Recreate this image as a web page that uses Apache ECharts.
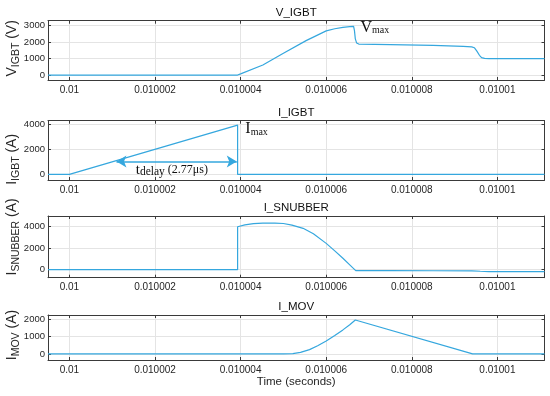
<!DOCTYPE html>
<html>
<head>
<meta charset="utf-8">
<script src="https://cdn.jsdelivr.net/npm/echarts@6/dist/echarts.min.js"></script>
<style>
html,body{margin:0;padding:0;background:#fff;}
#chart{width:550px;height:396px;}
</style>
</head>
<body>
<div id="chart"></div>
<script>
// time axis: microseconds after 0.01 s
const xTickValues = [0, 2, 4, 6, 8, 10];
const xTickLabels = ['0.01', '0.010002', '0.010004', '0.010006', '0.010008', '0.01001'];

const vIgbtT = [-0.5, 3.93, 4.0, 4.52, 5.0, 5.53, 6.0, 6.2, 6.39, 6.55, 6.64, 6.66, 6.68, 6.71, 6.76, 7.5, 8.5, 9.2, 9.4, 9.46, 9.52, 9.58, 9.63, 9.7, 9.8, 11.1];
const vIgbtV = [0, 0, 70, 610, 1320, 2090, 2680, 2810, 2900, 2940, 2950, 2700, 2200, 1950, 1880, 1850, 1800, 1740, 1710, 1660, 1450, 1200, 1060, 1010, 1000, 1000];

const iIgbtT = [-0.5, 0, 3.93, 3.93, 11.1];
const iIgbtV = [0, 0, 3950, 0, 0];

const iSnubT = [-0.5, 3.93, 3.93, 4.1, 4.3, 4.52, 4.8, 5.0, 5.2, 5.46, 5.7, 6.0, 6.2, 6.39, 6.55, 6.69, 7.5, 8.5, 9.4, 9.6, 9.8, 11.1];
const iSnubV = [0, 0, 4000, 4170, 4290, 4340, 4340, 4300, 4150, 3850, 3350, 2450, 1750, 1060, 450, -90, -90, -100, -110, -150, -180, -180];

const iMovT = [-0.5, 5.0, 5.22, 5.4, 5.61, 5.8, 6.0, 6.2, 6.39, 6.55, 6.68, 9.42, 11.1];
const iMovV = [0, 0, 15, 90, 250, 470, 750, 1060, 1390, 1690, 1960, 0, 0];

const panelTitles = ['V_IGBT', 'I_IGBT', 'I_SNUBBER', 'I_MOV'];
const yNameMain = ['V', 'I', 'I', 'I'];
const yNameSub = ['IGBT', 'IGBT', 'SNUBBER', 'MOV'];
const yNameUnit = [' (V)', ' (A)', ' (A)', ' (A)'];
const yTickValues = [[0, 1000, 2000, 3000], [0, 2000, 4000], [0, 2000, 4000], [0, 1000, 2000]];
const yRanges = [[-300, 3300], [-450, 4300], [-750, 5000], [-350, 2250]];

const delayArrow = [[1.1, 1040], [3.91, 1040]];
const vmaxPos = [6.8, 2870];
const imaxPos = [4.11, 3620];
const delayPos = [1.55, 330];

const xRange = [-0.5, 11.1];
const grids = [
  {top: 20.7, height: 59.3},
  {top: 120.7, height: 59.3},
  {top: 216, height: 61.7},
  {top: 315, height: 45}
];
const namePad = [[0,0,0,4],[0,18,0,0],[0,0,0,20],[0,0,0,5]];

const lineColor = '#35a7de';
const boxColor = '#3a3a3a';
const gridColor = '#e4e4e4';
const textColor = '#262626';
const FONT = 'Liberation Sans, Arial, sans-serif';
const SERIF = 'Liberation Serif, Times New Roman, serif';

const chart = echarts.init(document.getElementById('chart'), null, {renderer: 'canvas'});

const xAxes = [], yAxes = [], series = [];
const seriesData = [
  [vIgbtT, vIgbtV], [iIgbtT, iIgbtV], [iSnubT, iSnubV], [iMovT, iMovV]
];

grids.forEach((g, i) => {
  xAxes.push({
    type: 'value', gridIndex: i, position: 'bottom', min: xRange[0], max: xRange[1],
    axisLine: {show: true, onZero: false, lineStyle: {color: boxColor, width: 1}},
    axisTick: {show: true, inside: true, length: 3, customValues: xTickValues, lineStyle: {color: boxColor}},
    axisLabel: {show: true, customValues: xTickValues, margin: 5, fontSize: 10, fontFamily: FONT, color: textColor,
      formatter: v => xTickLabels[xTickValues.indexOf(v)]},
    splitLine: {show: true, lineStyle: {color: gridColor, width: 1}},
    name: i === 3 ? 'Time (seconds)' : '', nameLocation: 'middle', nameGap: 15,
    nameTextStyle: {fontSize: 11.5, fontFamily: FONT, color: textColor}
  });
  xAxes.push({
    type: 'value', gridIndex: i, position: 'top', min: xRange[0], max: xRange[1],
    axisLine: {show: true, onZero: false, lineStyle: {color: boxColor, width: 1}},
    axisTick: {show: true, inside: true, length: 3, customValues: xTickValues, lineStyle: {color: boxColor}},
    axisLabel: {show: false},
    splitLine: {show: false},
    name: panelTitles[i], nameLocation: 'middle', nameGap: 2,
    nameTextStyle: {fontSize: 11.5, fontFamily: FONT, color: '#111'}
  });
  yAxes.push({
    type: 'value', gridIndex: i, position: 'left', min: yRanges[i][0], max: yRanges[i][1],
    axisLine: {show: true, onZero: false, lineStyle: {color: boxColor, width: 1}},
    axisTick: {show: true, inside: true, length: 3, customValues: yTickValues[i], lineStyle: {color: boxColor}},
    axisLabel: {show: true, customValues: yTickValues[i], margin: 3, fontSize: 9.5, fontFamily: FONT, color: textColor,
      formatter: v => String(v)},
    splitLine: {show: true, lineStyle: {color: gridColor, width: 1}},
    name: '{m|' + yNameMain[i] + '}{s|' + yNameSub[i] + '}{m|' + yNameUnit[i] + '}',
    nameLocation: 'middle', nameRotate: 90, nameGap: 26, nameMoveOverlap: false,
    nameTextStyle: {
      color: textColor, fontFamily: FONT, padding: namePad[i],
      rich: {
        m: {fontSize: 14, lineHeight: 20, fontFamily: FONT, color: textColor},
        s: {fontSize: 10.5, lineHeight: 11, padding: [9, 0, 0, 0], verticalAlign: 'bottom', fontFamily: FONT, color: textColor}
      }
    }
  });
  yAxes.push({
    type: 'value', gridIndex: i, position: 'right', min: yRanges[i][0], max: yRanges[i][1],
    axisLine: {show: true, onZero: false, lineStyle: {color: boxColor, width: 1}},
    axisTick: {show: true, inside: true, length: 3, customValues: yTickValues[i], lineStyle: {color: boxColor}},
    axisLabel: {show: false},
    splitLine: {show: false}
  });
  const [ts, vs] = seriesData[i];
  const s = {
    type: 'line', xAxisIndex: i * 2, yAxisIndex: i * 2, showSymbol: false, symbol: 'none',
    data: ts.map((t, k) => [t, vs[k]]),
    lineStyle: {color: lineColor, width: 1.2}, itemStyle: {color: lineColor},
    animation: false, silent: true
  };
  const annLabel = (text) => ({
    show: true, position: [0, 0], align: 'left', verticalAlign: 'middle', formatter: text,
    rich: {
      a: {fontFamily: SERIF, fontSize: 16, lineHeight: 16, color: '#111'},
      b: {fontFamily: SERIF, fontSize: 10, lineHeight: 11, verticalAlign: 'bottom', color: '#111'},
      t: {fontFamily: SERIF, fontSize: 15, lineHeight: 16, color: '#111'},
      d: {fontFamily: SERIF, fontSize: 11.5, lineHeight: 12, verticalAlign: 'bottom', color: '#111'},
      p: {fontFamily: SERIF, fontSize: 12, lineHeight: 16, color: '#111'}
    }
  });
  if (i === 0) {
    s.markPoint = {silent: true, animation: false, symbol: 'circle', symbolSize: 0,
      data: [{coord: vmaxPos, label: annLabel('{a|V}{b|max}')}]};
  }
  if (i === 1) {
    s.markPoint = {silent: true, animation: false, symbol: 'circle', symbolSize: 0,
      data: [
        {coord: imaxPos, label: annLabel('{a|I}{b|max}')},
        {coord: delayPos, label: annLabel('{t|t}{d|delay}{p| (2.77μs)}')}
      ]};
    s.markLine = {silent: true, animation: false, symbol: ['arrow', 'arrow'], symbolSize: [9, 10],
      label: {show: false},
      lineStyle: {color: lineColor, width: 1.5, type: 'solid'},
      data: [[{coord: delayArrow[0]}, {coord: delayArrow[1]}]]};
  }
  series.push(s);
});

chart.setOption({
  animation: false,
  backgroundColor: '#fff',
  grid: grids.map(g => ({left: 48, right: 5.5, top: g.top, height: g.height, containLabel: false, outerBoundsMode: 'none'})),
  xAxis: xAxes,
  yAxis: yAxes,
  series: series
});
</script>
</body>
</html>
